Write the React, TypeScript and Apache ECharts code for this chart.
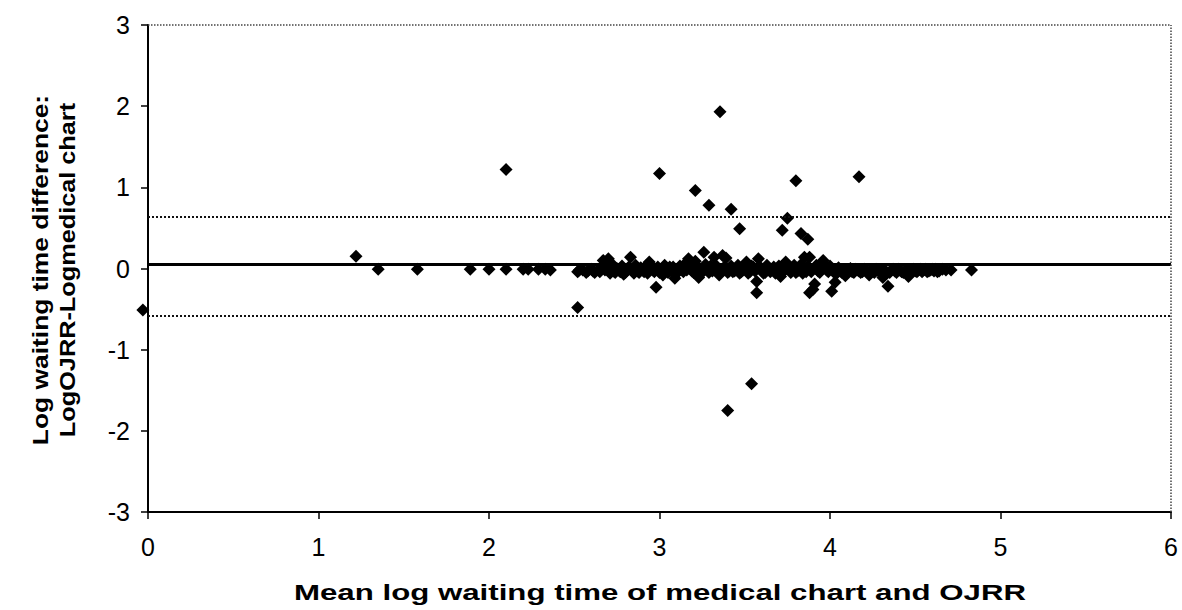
import React, { useEffect, useRef } from "react";
import * as echarts from "echarts";

const xTicks = [0, 1, 2, 3, 4, 5, 6];
const yTicks = [-3, -2, -1, 0, 1, 2, 3];

const meanDiff = 0.05;
const upperLimit = 0.64;
const lowerLimit = -0.58;

const leftPoints: [number, number][] = [
  [1.22, 0.15], [1.35, -0.01], [1.58, -0.01], [1.89, -0.01], [2.0, -0.01],
  [2.1, -0.01], [2.2, -0.01], [2.23, -0.01], [2.29, -0.01], [2.33, -0.01],
];

const bandPoints: [number, number][] = [
  [2.36, -0.02], [2.52, -0.04], [2.55, -0.02], [2.58, -0.03], [2.6, -0.01],
  [2.62, -0.05], [2.64, -0.02], [2.66, 0.02], [2.67, 0.1], [2.7, 0.12],
  [2.71, -0.06], [2.73, -0.03], [2.75, 0.0], [2.77, -0.04], [2.79, -0.07],
  [2.81, -0.02], [2.83, 0.14], [2.85, -0.06], [2.87, -0.03], [2.89, 0.01],
  [2.91, -0.04], [2.94, 0.08], [2.96, -0.02], [2.98, -0.23], [3.0, -0.05],
  [3.02, -0.08], [3.04, -0.02], [3.06, 0.02], [3.09, -0.12], [3.11, -0.04],
  [3.13, -0.01], [3.15, 0.06], [3.17, 0.12], [3.19, -0.03], [3.21, 0.09],
  [3.23, -0.11], [3.25, -0.05], [3.26, 0.2], [3.28, -0.02], [3.3, 0.03],
  [3.32, 0.14], [3.34, -0.04], [3.35, -0.08], [3.37, 0.16], [3.39, 0.13],
  [3.41, -0.03], [3.43, -0.04], [3.45, 0.0], [3.47, -0.06], [3.49, -0.02],
  [3.51, 0.08], [3.53, -0.04], [3.55, 0.02], [3.57, -0.16], [3.57, -0.3],
  [3.58, 0.12], [3.6, -0.03], [3.62, -0.05], [3.64, 0.0], [3.66, -0.02],
  [3.68, -0.06], [3.7, 0.03], [3.71, -0.1], [3.73, -0.03], [3.74, 0.08],
  [3.76, -0.02], [3.78, 0.01], [3.8, -0.05], [3.82, -0.02], [3.85, 0.14],
  [3.86, -0.04], [3.88, 0.14], [3.88, -0.3], [3.9, -0.26], [3.91, -0.19],
  [3.93, -0.03], [3.96, 0.1], [3.97, 0.05], [3.98, -0.02], [4.01, -0.28],
  [4.03, -0.17], [4.04, -0.06], [4.06, -0.03], [4.09, -0.09], [4.11, -0.02],
  [4.13, -0.04], [4.15, -0.01], [4.17, -0.03], [4.19, -0.04], [4.21, -0.02],
  [4.23, -0.08], [4.25, -0.03], [4.27, -0.01], [4.29, -0.04], [4.31, -0.11],
  [4.33, -0.05], [4.34, -0.22], [4.36, -0.02], [4.38, -0.03], [4.4, -0.01],
  [4.42, -0.04], [4.44, -0.03], [4.46, -0.1], [4.48, -0.02], [4.5, -0.03],
  [4.53, -0.01], [4.55, -0.02], [4.58, -0.03], [4.6, -0.01], [4.63, -0.04],
  [4.66, -0.01], [4.71, -0.02], [4.83, -0.02],
];

const bandPoints2: [number, number][] = [
  [2.53, -0.02], [2.57, -0.05], [2.61, -0.03], [2.65, -0.04], [2.68, -0.02],
  [2.69, 0.04], [2.72, 0.06], [2.74, -0.05], [2.76, -0.02], [2.78, 0.03],
  [2.8, -0.05], [2.82, 0.02], [2.84, -0.03], [2.86, 0.04], [2.88, -0.05],
  [2.9, -0.02], [2.92, 0.03], [2.93, -0.06], [2.95, 0.01], [2.97, -0.04],
  [2.99, 0.02], [3.01, -0.03], [3.03, 0.04], [3.05, -0.05], [3.07, -0.03],
  [3.08, 0.02], [3.1, -0.06], [3.12, 0.03], [3.14, -0.04], [3.16, -0.02],
  [3.18, 0.05], [3.2, -0.05], [3.22, 0.02], [3.24, -0.03], [3.27, 0.05],
  [3.29, -0.05], [3.31, -0.03], [3.33, 0.04], [3.36, -0.02], [3.38, 0.02],
  [3.4, -0.05], [3.42, 0.03], [3.44, -0.03], [3.46, 0.04], [3.48, -0.04],
  [3.5, 0.01], [3.52, -0.06], [3.54, 0.03], [3.56, -0.03], [3.59, 0.02],
  [3.61, -0.06], [3.63, 0.04], [3.65, -0.04], [3.67, 0.02], [3.69, -0.03],
  [3.72, -0.05], [3.75, 0.03], [3.77, -0.05], [3.79, 0.04], [3.81, -0.03],
  [3.83, 0.05], [3.84, -0.06], [3.87, 0.03], [3.89, -0.04], [3.92, 0.04],
  [3.94, -0.05], [3.95, 0.02], [3.99, -0.04], [4.0, 0.03], [4.02, -0.04],
  [4.05, 0.01], [4.07, -0.05], [4.08, -0.02], [4.1, -0.05], [4.12, 0.0],
  [4.14, -0.05], [4.16, -0.02], [4.18, -0.05], [4.2, -0.01], [4.22, -0.05],
  [4.24, -0.02], [4.26, -0.05], [4.28, -0.02], [4.3, -0.04], [4.32, -0.02],
  [4.35, -0.05], [4.37, -0.01], [4.39, -0.05], [4.41, -0.02], [4.43, -0.05],
  [4.45, -0.02], [4.47, -0.05], [4.49, -0.01], [4.51, -0.04], [4.52, -0.02],
  [4.54, -0.04], [4.56, -0.01], [4.57, -0.04], [4.59, -0.02], [4.61, -0.03],
  [4.62, -0.01], [4.64, -0.03], [4.68, -0.02],
];

const outlierPoints: [number, number][] = [
  [2.1, 1.22], [2.52, -0.48], [3.0, 1.17], [3.21, 0.96], [3.29, 0.78],
  [3.42, 0.73], [3.47, 0.49], [3.355, 1.93], [3.8, 1.08], [4.17, 1.13],
  [3.75, 0.62], [3.72, 0.47], [3.83, 0.43], [3.87, 0.36], [3.54, -1.42],
  [3.4, -1.75],
];

const edgePoints: [number, number][] = [[-0.03, -0.51]];

const xTitle = "Mean log waiting time of medical chart and OJRR";
const yTitle1 = "Log waiting time difference:";
const yTitle2 = "LogOJRR-Logmedical chart";

export default function App() {
  const ref = useRef<HTMLDivElement>(null);
  useEffect(() => {
    if (!ref.current) return;
    const chart = echarts.init(ref.current, undefined, { renderer: "svg" });
    const font = "'Liberation Sans', Arial, sans-serif";
    const marker = {
      type: "scatter" as const,
      symbol: "diamond",
      symbolSize: 13,
      itemStyle: { color: "#000", opacity: 1 },
      z: 3,
    };
    const titleStyle = {
      fontSize: 22,
      fontWeight: "bold",
      fontFamily: font,
      fill: "#000",
      align: "center",
      verticalAlign: "middle",
    };
    chart.setOption({
      animation: false,
      backgroundColor: "#fff",
      grid: { left: 148, right: 11, top: 25, bottom: 98 },
      xAxis: {
        type: "value",
        min: xTicks[0],
        max: xTicks[xTicks.length - 1],
        interval: 1,
        axisLine: { onZero: false, lineStyle: { color: "#000", width: 2 } },
        axisTick: { show: true, length: 7, lineStyle: { color: "#000", width: 1.5 } },
        axisLabel: { color: "#000", fontSize: 25, fontFamily: font, margin: 22 },
        splitLine: { show: false },
      },
      yAxis: {
        type: "value",
        min: yTicks[0],
        max: yTicks[yTicks.length - 1],
        interval: 1,
        axisLine: { show: true, onZero: false, lineStyle: { color: "#000", width: 2 } },
        axisTick: { show: true, length: 7, lineStyle: { color: "#000", width: 1.5 } },
        axisLabel: { color: "#000", fontSize: 25, fontFamily: font, margin: 18 },
        splitLine: { show: false },
      },
      graphic: [
        {
          type: "text",
          x: 660,
          y: 593,
          scaleX: 1.42,
          style: { ...titleStyle, text: xTitle },
        },
        {
          type: "text",
          x: 40,
          y: 270,
          rotation: Math.PI / 2,
          scaleX: 1.2,
          style: { ...titleStyle, text: yTitle1 },
        },
        {
          type: "text",
          x: 68,
          y: 270,
          rotation: Math.PI / 2,
          scaleX: 1.15,
          style: { ...titleStyle, text: yTitle2 },
        },
      ],
      series: [
        {
          ...marker,
          data: leftPoints,
          markLine: {
            silent: true,
            symbol: "none",
            label: { show: false },
            data: [
              { yAxis: meanDiff, lineStyle: { type: "solid", color: "#000", width: 3, opacity: 1 } },
              { yAxis: upperLimit, lineStyle: { type: "dotted", color: "#111", width: 2, opacity: 1 } },
              { yAxis: lowerLimit, lineStyle: { type: "dotted", color: "#111", width: 2, opacity: 1 } },
              { yAxis: yTicks[yTicks.length - 1], lineStyle: { type: "dotted", color: "#444", width: 1.5, opacity: 1 } },
              { xAxis: xTicks[xTicks.length - 1], lineStyle: { type: "dotted", color: "#444", width: 1.5, opacity: 1 } },
            ],
          },
        },
        { ...marker, data: bandPoints },
        { ...marker, data: bandPoints2 },
        { ...marker, data: outlierPoints },
        { ...marker, data: edgePoints, clip: false },
      ],
    });
    return () => chart.dispose();
  }, []);
  return (
    <div
      ref={ref}
      style={{ position: "fixed", left: 0, top: 0, width: 1182, height: 610, background: "#fff" }}
    />
  );
}
